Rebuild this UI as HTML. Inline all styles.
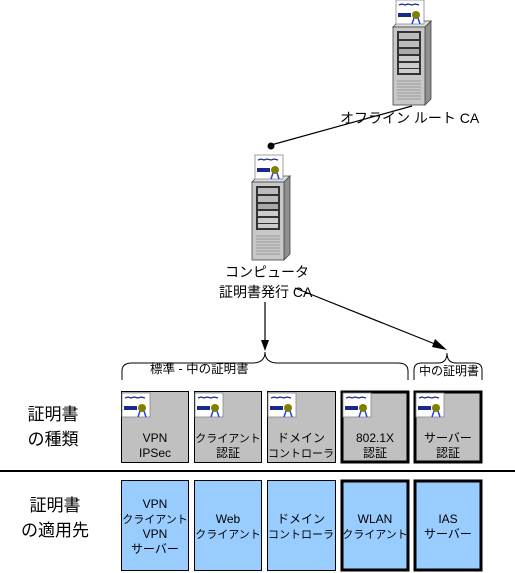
<!DOCTYPE html>
<html><head><meta charset="utf-8"><style>
body{margin:0;background:#fff}
svg{display:block}
text{font-family:"Liberation Sans","Noto Sans CJK JP",sans-serif;fill:#000}
</style></head><body>
<svg width="515" height="573" viewBox="0 0 515 573" xmlns="http://www.w3.org/2000/svg">
<defs>
<g id="cert">
<rect x="0" y="0" width="28" height="24" fill="#fff" stroke="#888" stroke-width="0.8"/>
<path d="M3 5 l3 -1 l3 1 l3 -1 l4 1 l3 -1 l4 1" stroke="#1a2a8a" fill="none" stroke-width="1.2"/>
<rect x="2" y="13" width="13" height="4" fill="#1a2a8a"/>
<path d="M18 18 l-2 6 M22 18 l2 6" stroke="#2040ff" stroke-width="1.5"/>
<circle cx="20" cy="15" r="4" fill="#808000"/>
</g>
<g id="server">
<path d="M0 6 l6 -6 h32 l-6 6z" fill="#e0e0e0" stroke="#444" stroke-width="0.8"/>
<path d="M32 6 l6 -6 v78 l-6 6z" fill="#909090" stroke="#444" stroke-width="0.8"/>
<rect x="0" y="6" width="32" height="78" fill="#c8c8c8" stroke="#444" stroke-width="0.8"/>
<rect x="4" y="10" width="24" height="44" fill="#333"/>
<rect x="6" y="12" width="20" height="6" fill="#bbb"/>
<rect x="6" y="20" width="20" height="6" fill="#bbb"/>
<rect x="6" y="28" width="20" height="5" fill="#aaa"/>
<rect x="6" y="35" width="20" height="5" fill="#ccc"/>
<rect x="6" y="42" width="20" height="5" fill="#ccc"/>
<rect x="6" y="48" width="20" height="4" fill="#ccc"/>
<g stroke="#888" stroke-width="0.8"><path d="M4 60h24M4 63h24M4 66h24M4 69h24M4 72h24M4 75h24M4 78h24"/></g>
</g>
</defs>

<use href="#server" x="393" y="21"/>
<use href="#cert" x="396" y="0"/>
<text x="340" y="123" font-size="14">オフライン ルート CA</text>
<line x1="412" y1="106" x2="271" y2="145" stroke="#000" stroke-width="1.2"/>
<circle cx="271" cy="146" r="3.5" fill="#000"/>

<use href="#server" x="252" y="176"/>
<use href="#cert" x="255" y="155"/>
<text x="225" y="277" font-size="14">コンピュータ</text>
<text x="219" y="297" font-size="14">証明書発行 CA</text>

<line x1="265" y1="302" x2="265" y2="343" stroke="#000" stroke-width="1.2"/>
<path d="M261 340 L265 351 L269 340z" fill="#000"/>
<line x1="295" y1="288" x2="440" y2="346" stroke="#000" stroke-width="1.2"/>
<path d="M435 339 L447 350 L432 347z" fill="#000"/>

<path d="M122 380 V371 Q122 363 132 363 H252 Q265 363 265 352 Q265 363 278 363 H398 Q408 363 408 371 V380" fill="none" stroke="#000" stroke-width="1"/>
<text x="150" y="373" font-size="12.5">標準 - 中の証明書</text>
<path d="M414 380 V370 Q414 363 422 363 H438 Q447 363 447 353 Q447 363 456 363 H474 Q482 363 482 370 V380" fill="none" stroke="#000" stroke-width="1"/>
<text x="419" y="375" font-size="12">中の証明書</text>

<g font-size="17" text-anchor="middle">
<text x="53" y="420">証明書</text>
<text x="53" y="445">の種類</text>
<text x="55" y="511">証明書</text>
<text x="55" y="536">の適用先</text>
</g>

<line x1="0" y1="471" x2="515" y2="471" stroke="#000" stroke-width="2"/>

<g fill="#c0c0c0" stroke="#000">
<rect x="121.5" y="391.5" width="67" height="71" stroke-width="1"/>
<rect x="194.5" y="391.5" width="67" height="71" stroke-width="1"/>
<rect x="267.5" y="391.5" width="68" height="71" stroke-width="1"/>
<rect x="342" y="392" width="66" height="70" stroke-width="3"/>
<rect x="415" y="392" width="66" height="70" stroke-width="3"/>
</g>
<use href="#cert" x="122" y="393"/>
<use href="#cert" x="195" y="393"/>
<use href="#cert" x="268" y="393"/>
<use href="#cert" x="343" y="393"/>
<use href="#cert" x="416" y="393"/>
<g font-size="12" text-anchor="middle">
<text x="155" y="442">VPN</text><text x="155" y="457">IPSec</text>
<text x="228" y="442" font-size="11">クライアント</text><text x="228" y="457">認証</text>
<text x="301" y="442">ドメイン</text><text x="301" y="457" font-size="11">コントローラ</text>
<text x="375" y="442">802.1X</text><text x="375" y="457">認証</text>
<text x="448" y="442">サーバー</text><text x="448" y="457">認証</text>
</g>

<g fill="#99ccff" stroke="#000">
<rect x="121.5" y="480.5" width="67" height="90" stroke-width="1"/>
<rect x="194.5" y="480.5" width="67" height="90" stroke-width="1"/>
<rect x="267.5" y="480.5" width="68" height="90" stroke-width="1"/>
<rect x="342" y="481" width="66" height="89" stroke-width="3"/>
<rect x="415" y="481" width="66" height="89" stroke-width="3"/>
</g>
<g font-size="12" text-anchor="middle">
<text x="155" y="508">VPN</text><text x="155" y="523" font-size="11">クライアント</text><text x="155" y="538">VPN</text><text x="155" y="553">サーバー</text>
<text x="228" y="523">Web</text><text x="228" y="538" font-size="11">クライアント</text>
<text x="301" y="523">ドメイン</text><text x="301" y="538" font-size="11">コントローラ</text>
<text x="375" y="523">WLAN</text><text x="375" y="538" font-size="11">クライアント</text>
<text x="448" y="523">IAS</text><text x="448" y="538">サーバー</text>
</g>
</svg>
</body></html>
